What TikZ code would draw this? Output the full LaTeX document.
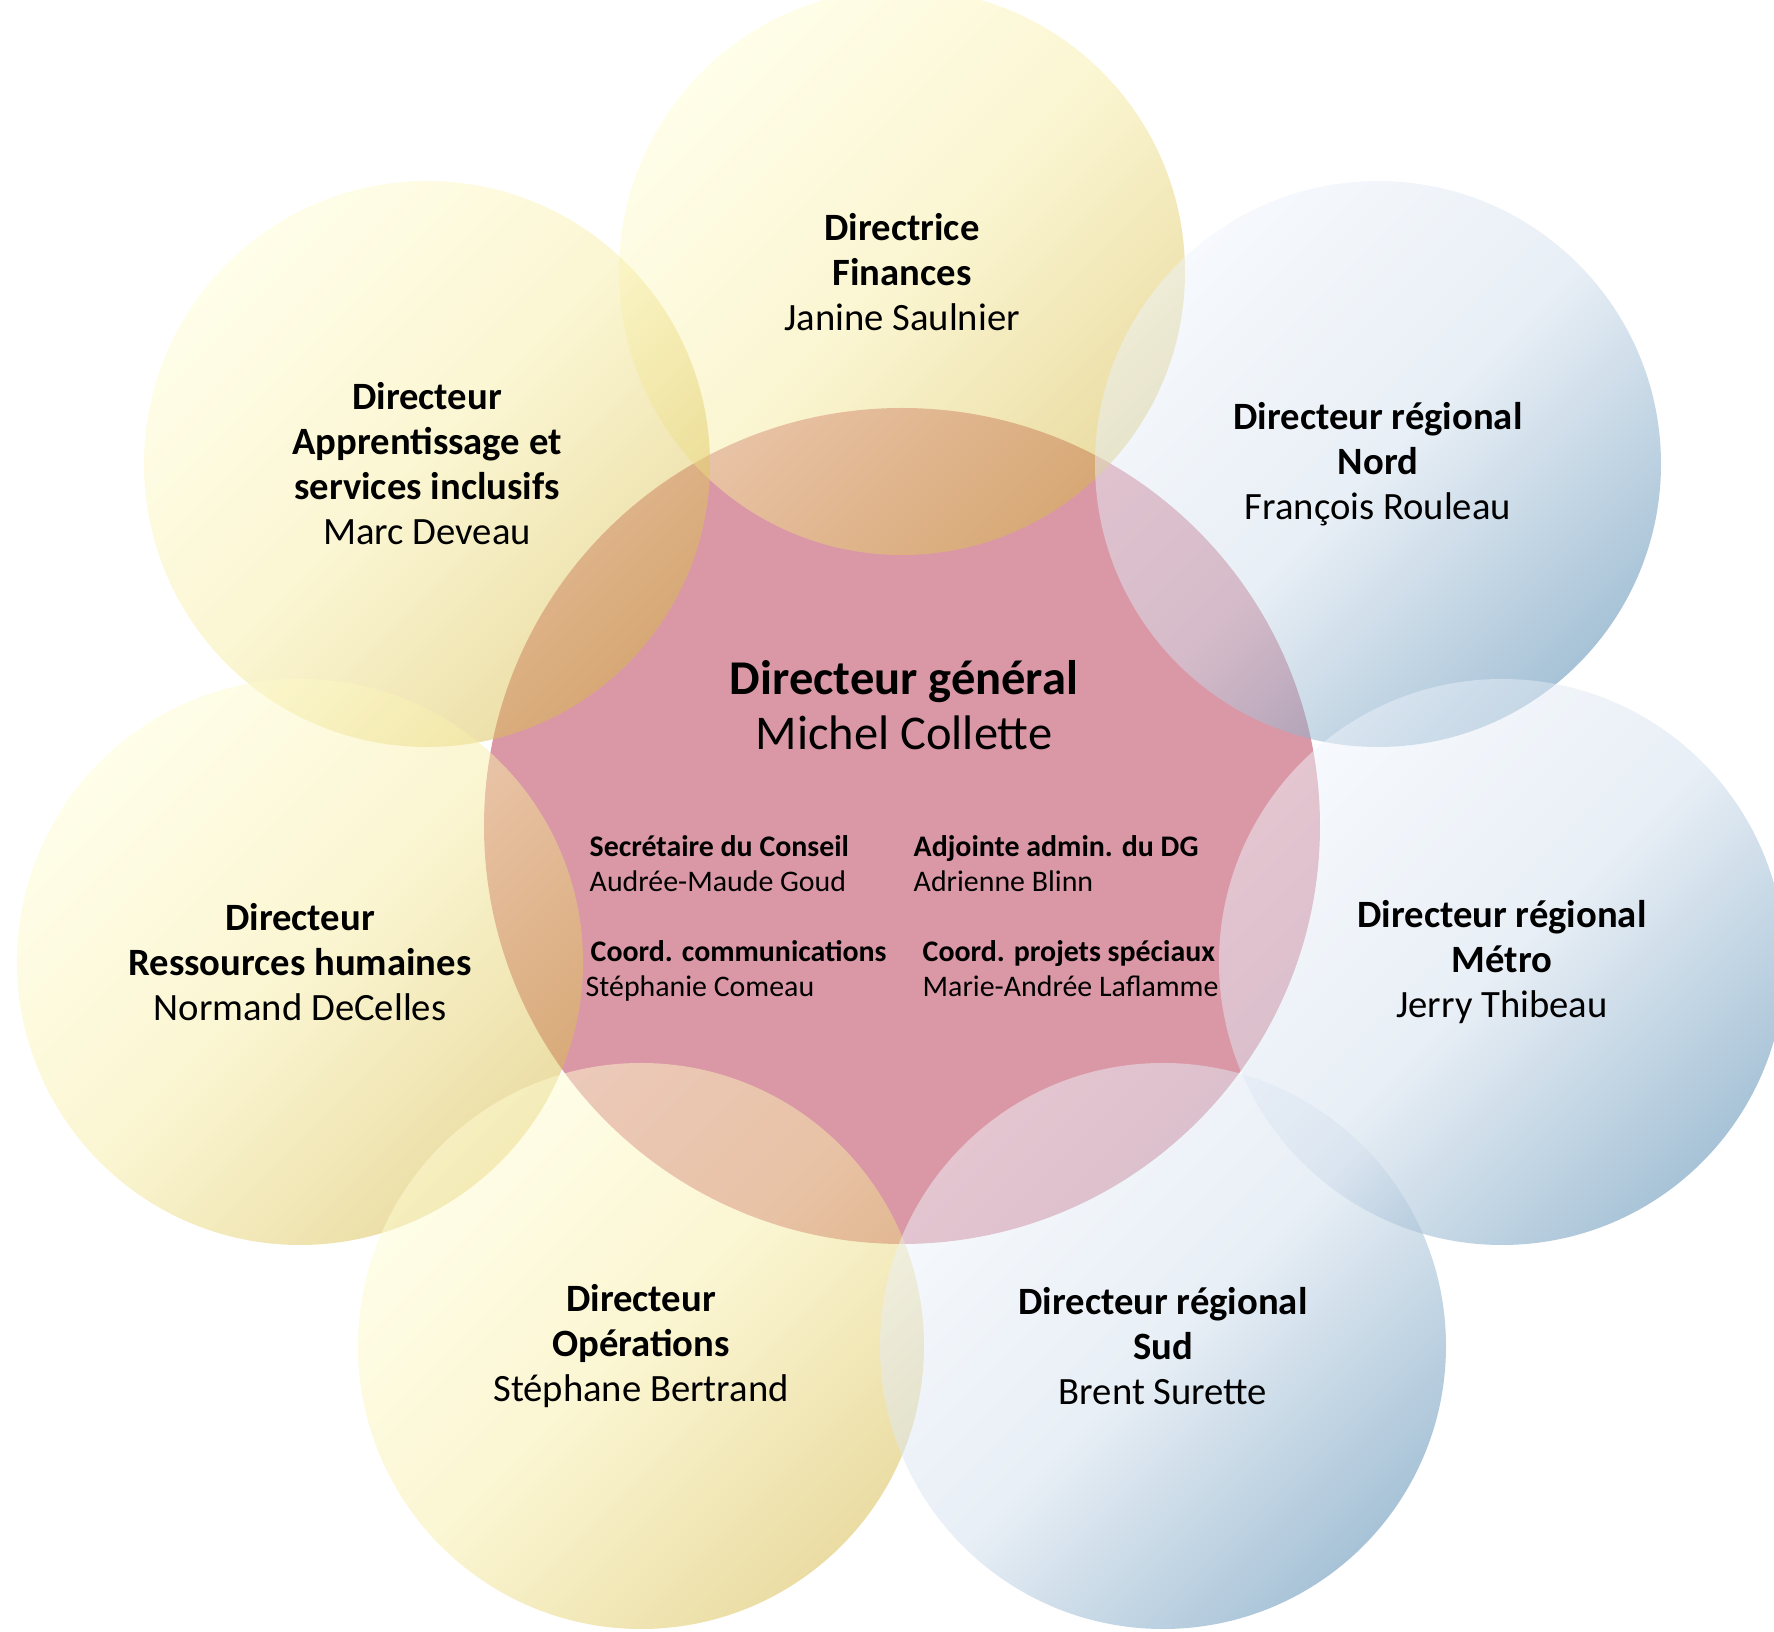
\documentclass[tikz,border=0pt]{standalone}
\usepackage{fontspec}
\setmainfont{Carlito}
\usepackage{xcolor}
\definecolor{jauneclair}{RGB}{255,253,212}
\definecolor{jaunemoyen}{RGB}{247,237,165}
\definecolor{jaunefonce}{RGB}{214,186,72}
\definecolor{bleuclair}{RGB}{238,243,251}
\definecolor{bleumoyen}{RGB}{210,223,237}
\definecolor{bleufonce}{RGB}{80,135,175}
\definecolor{rose}{RGB}{218,152,166}

\begin{document}
\begin{tikzpicture}[
    disque/.style={circle, inner sep=0pt, minimum size=5.66cm, fill opacity=0.5},
    jaune/.style={disque, top color=jauneclair, bottom color=jaunefonce, middle color=jaunemoyen, shading angle=45},
    bleu/.style={disque, top color=bleuclair, bottom color=bleufonce, middle color=bleumoyen, shading angle=45},
    titre/.style={align=center, font=\fontsize{11}{12.8}\selectfont},
    petit/.style={align=left, anchor=north west, inner sep=0pt, font=\fontsize{8.5}{10}\selectfont}
  ]
    \useasboundingbox (0,0) rectangle (17.74,-16.32);
    % cercle du centre
    \node[circle, inner sep=0pt, minimum size=8.36cm, fill=rose] (cdg) at (9.02,-8.26) {};
    % cercles autour
    \node[jaune] (cfin) at (9.02,-2.72) {};
    \node[jaune] (capp) at (4.27,-4.64) {};
    \node[bleu] (cnord) at (13.78,-4.64) {};
    \node[jaune] (crh) at (3.00,-9.62) {};
    \node[bleu] (cmetro) at (15.02,-9.62) {};
    \node[jaune] (cops) at (6.41,-13.46) {};
    \node[bleu] (csud) at (11.63,-13.46) {};

    \node[titre] (fin) at (cfin) {\textbf{Directrice}\\\textbf{Finances}\\Janine Saulnier};
    \node[titre] (app) at (capp) {\textbf{Directeur}\\\textbf{Apprentissage et}\\\textbf{services inclusifs}\\Marc Deveau};
    \node[titre] (nord) at (cnord) {\textbf{Directeur régional}\\\textbf{Nord}\\François Rouleau};
    \node[titre] (rh) at (crh) {\textbf{Directeur}\\\textbf{Ressources humaines}\\Normand DeCelles};
    \node[titre] (metro) at (cmetro) {\textbf{Directeur régional}\\\textbf{Métro}\\Jerry Thibeau};
    \node[titre] (ops) at (cops) {\textbf{Directeur}\\\textbf{Opérations}\\Stéphane Bertrand};
    \node[titre] (sud) at (csud) {\textbf{Directeur régional}\\\textbf{Sud}\\Brent Surette};

    % DG et son bureau
    \node[align=center, font=\fontsize{13.8}{15.6}\selectfont] (dg) at (9.04,-7.05) {\textbf{Directeur général}\\Michel Collette};
    \node[petit] (sec) at (5.89,-8.35) {\textbf{Secrétaire du Conseil}\\Audrée-Maude Goud};
    \node[petit] (adj) at (9.13,-8.35) {\textbf{Adjointe admin. du DG}\\Adrienne Blinn};
    \node[petit] (com) at (5.90,-9.40) {\textbf{Coord. communications}\\\hspace*{-0.05cm}Stéphanie Comeau};
    \node[petit] (proj) at (9.22,-9.40) {\textbf{Coord. projets spéciaux}\\Marie-Andrée Laflamme};
\end{tikzpicture}
\end{document}
